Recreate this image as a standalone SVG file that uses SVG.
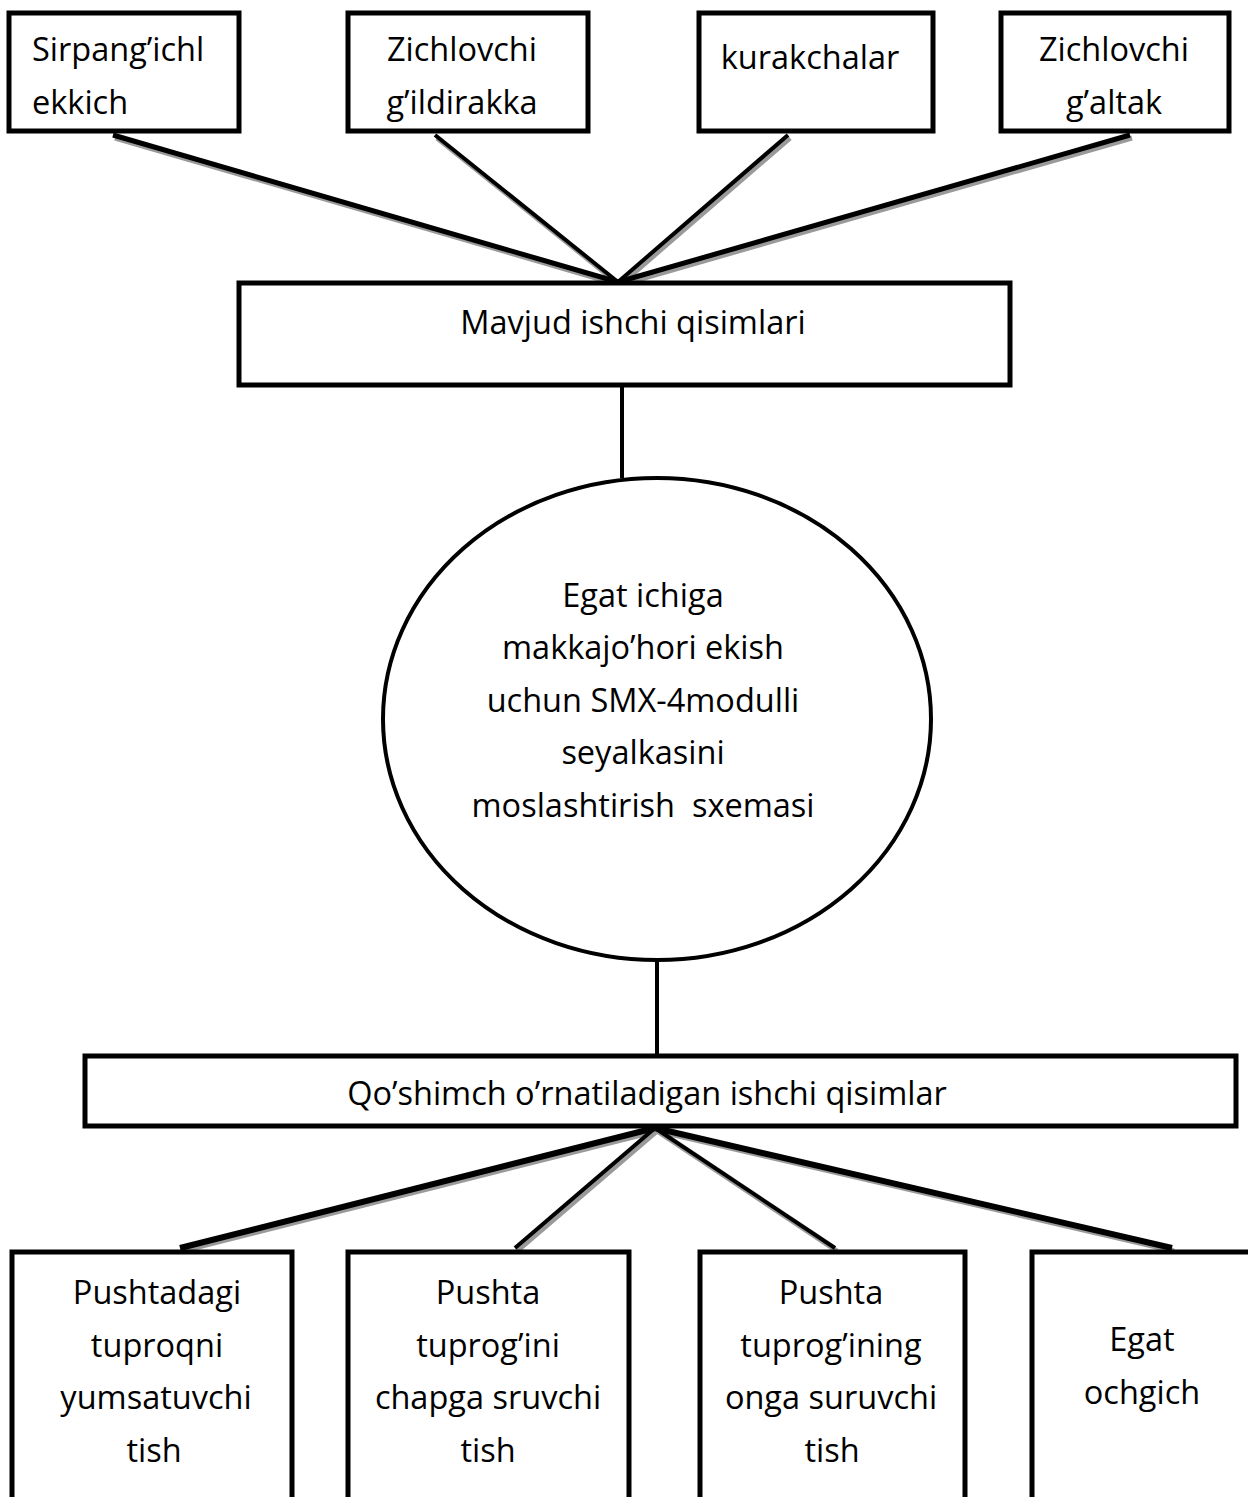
<svg xmlns="http://www.w3.org/2000/svg" width="1248" height="1497" viewBox="0 0 1248 1497">
<style>
.box{fill:#fff;stroke:#000;stroke-width:5}
.t{font-family:"Open Sans","Liberation Sans",sans-serif;font-size:32.5px;fill:#000;white-space:pre}
.c{text-anchor:middle}
.ln{stroke:#000;stroke-width:5;fill:none;stroke-linecap:butt}
.sh{stroke:#9a9a9a;stroke-width:5;fill:none}
</style>
<rect width="1248" height="1497" fill="#fff"/>
<g id="connectors">
  <g class="sh" transform="translate(2,3)">
    <line x1="113" y1="135" x2="618" y2="282"/>
    <line x1="435" y1="135" x2="618" y2="282"/>
    <line x1="788" y1="135" x2="618" y2="282"/>
    <line x1="1130" y1="135" x2="618" y2="282"/>
    <line x1="655" y1="1128" x2="180" y2="1248"/>
    <line x1="655" y1="1128" x2="515" y2="1248"/>
    <line x1="655" y1="1128" x2="835" y2="1248"/>
    <line x1="655" y1="1128" x2="1172" y2="1248"/>
  </g>
  <line class="ln" x1="113" y1="135" x2="618" y2="282"/>
  <line class="ln" x1="435" y1="135" x2="618" y2="282" style="stroke-width:4"/>
  <line class="ln" x1="788" y1="135" x2="618" y2="282" style="stroke-width:4"/>
  <line class="ln" x1="1130" y1="135" x2="618" y2="282"/>
  <line class="ln" x1="622" y1="386" x2="622" y2="478" style="stroke-width:4"/>
  <line class="ln" x1="657" y1="960" x2="657" y2="1055" style="stroke-width:4"/>
  <line class="ln" x1="655" y1="1128" x2="180" y2="1248" style="stroke-width:6"/>
  <line class="ln" x1="655" y1="1128" x2="515" y2="1248" style="stroke-width:4"/>
  <line class="ln" x1="655" y1="1128" x2="835" y2="1248" style="stroke-width:4"/>
  <line class="ln" x1="655" y1="1128" x2="1172" y2="1248" style="stroke-width:6"/>
</g>
<g id="n1"><rect class="box" x="9" y="13" width="230" height="118"/>
  <text class="t" x="32" y="61">Sirpang’ichl</text>
  <text class="t" x="32" y="114">ekkich</text></g>
<g id="n2"><rect class="box" x="348" y="13" width="240" height="118"/>
  <text class="t c" x="462" y="61">Zichlovchi</text>
  <text class="t c" x="462" y="114">g’ildirakka</text></g>
<g id="n3"><rect class="box" x="699" y="13" width="234" height="118"/>
  <text class="t c" x="810" y="69">kurakchalar</text></g>
<g id="n4"><rect class="box" x="1001" y="13" width="228" height="118"/>
  <text class="t c" x="1114" y="61">Zichlovchi</text>
  <text class="t c" x="1114" y="114">g’altak</text></g>
<g id="n5"><rect class="box" x="239" y="283" width="771" height="102"/>
  <text class="t c" x="633" y="334">Mavjud ishchi qisimlari</text></g>
<g id="n6"><ellipse cx="657" cy="719" rx="274" ry="241" fill="#fff" stroke="#000" stroke-width="4"/>
  <text class="t c" x="643" y="607">Egat ichiga</text>
  <text class="t c" x="643" y="659">makkajo’hori ekish</text>
  <text class="t c" x="643" y="712">uchun SMX-4modulli</text>
  <text class="t c" x="643" y="764">seyalkasini</text>
  <text class="t c" x="643" y="817" xml:space="preserve">moslashtirish  sxemasi</text></g>
<g id="n7"><rect class="box" x="85" y="1056" width="1151" height="70"/>
  <text class="t c" x="647" y="1105">Qo’shimch o’rnatiladigan ishchi qisimlar</text></g>
<g id="n8"><rect class="box" x="12" y="1252" width="280" height="260"/>
  <text class="t c" x="157" y="1304">Pushtadagi</text>
  <text class="t c" x="157" y="1357">tuproqni</text>
  <text class="t c" x="156" y="1409">yumsatuvchi</text>
  <text class="t c" x="154" y="1462">tish</text></g>
<g id="n9"><rect class="box" x="348" y="1252" width="281" height="260"/>
  <text class="t c" x="488" y="1304">Pushta</text>
  <text class="t c" x="488" y="1357">tuprog’ini</text>
  <text class="t c" x="488" y="1409">chapga sruvchi</text>
  <text class="t c" x="488" y="1462">tish</text></g>
<g id="n10"><rect class="box" x="700" y="1252" width="265" height="260"/>
  <text class="t c" x="831" y="1304">Pushta</text>
  <text class="t c" x="831" y="1357">tuprog’ining</text>
  <text class="t c" x="831" y="1409">onga suruvchi</text>
  <text class="t c" x="832" y="1462">tish</text></g>
<g id="n11"><rect class="box" x="1032" y="1252" width="230" height="260"/>
  <text class="t c" x="1142" y="1351">Egat</text>
  <text class="t c" x="1142" y="1404">ochgich</text></g>
</svg>
